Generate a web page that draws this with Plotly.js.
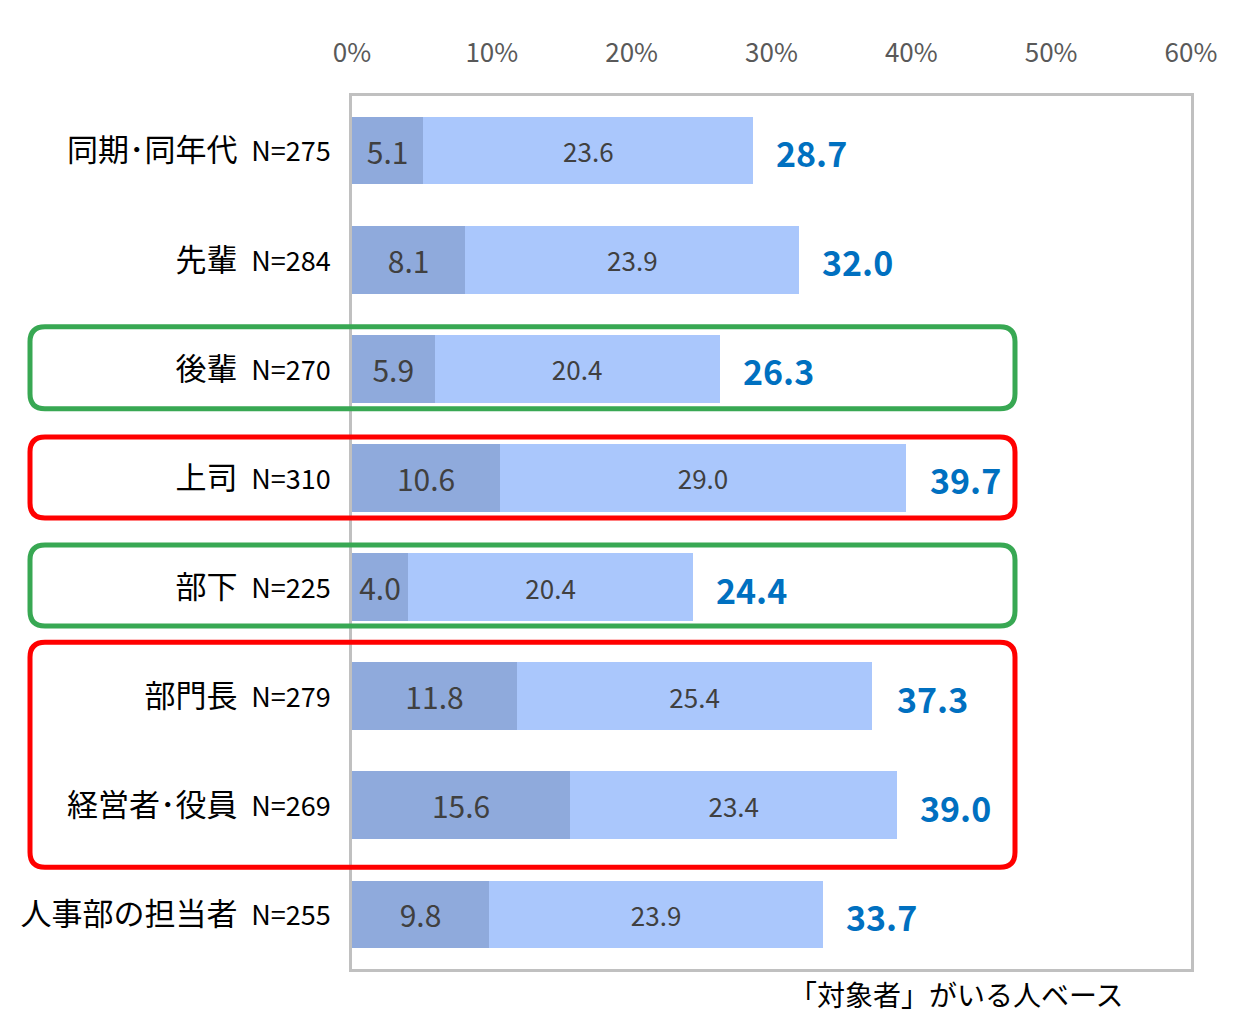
<!DOCTYPE html>
<html>
<head>
<meta charset="utf-8">
<script src="https://cdn.plot.ly/plotly-3.0.1.min.js"></script>
<style>
  body { margin: 0; background: #fff; }
  #chart { width: 1256px; height: 1025px; }
</style>
</head>
<body>
<div id="chart"></div>
<script>
var categories = ['同期･同年代', '先輩', '後輩', '上司', '部下', '部門長', '経営者･役員', '人事部の担当者'];
var sampleSizes = [275, 284, 270, 310, 225, 279, 269, 255];
var strongValues = [5.1, 8.1, 5.9, 10.6, 4.0, 11.8, 15.6, 9.8];
var someValues = [23.6, 23.9, 20.4, 29.0, 20.4, 25.4, 23.4, 23.9];
var totalValues = [28.7, 32.0, 26.3, 39.7, 24.4, 37.3, 39.0, 33.7];
var xTicks = [0, 10, 20, 30, 40, 50, 60];
var footnote = '「対象者」がいる人ベース';

var JP = '"Noto Sans CJK JP", "Noto Sans", sans-serif';

var tickText = categories.map(function(c, i) {
    return c + '\u00A0 <span style="font-size:27px">N=' + sampleSizes[i] + '</span>';
});

var traceStrong = {
    type: 'bar',
    orientation: 'h',
    y: categories,
    x: strongValues,
    marker: { color: '#8FAADC' },
    text: strongValues.map(function(v) { return v.toFixed(1); }),
    textposition: 'inside',
    insidetextanchor: 'middle',
    constraintext: 'none',
    textfont: { size: 30, color: '#404040', family: JP },
    hoverinfo: 'none'
};

var traceSome = {
    type: 'bar',
    orientation: 'h',
    y: categories,
    x: someValues,
    marker: { color: '#AAC7FC' },
    text: someValues.map(function(v) { return v.toFixed(1); }),
    textposition: 'inside',
    insidetextanchor: 'middle',
    constraintext: 'none',
    textfont: { size: 26, color: '#404040', family: JP },
    hoverinfo: 'none'
};

var annotations = totalValues.map(function(v, i) {
    return {
        x: v, y: categories[i], xref: 'x', yref: 'y',
        text: '<b>' + v.toFixed(1) + '</b>',
        showarrow: false, xanchor: 'left', yanchor: 'middle',
        xshift: 21, yshift: -2,
        font: { size: 34, color: '#0070C0', family: JP }
    };
});

// plot area geometry (for the highlight boxes)
var plotW = 839, plotH = 873, leftPx = 352;
function rowY(i, padPx) { return 1 - (i + 0.5) / categories.length + padPx / plotH; }
function roundBox(x0px, x1px, first, last, padTop, padBot, color) {
    var x0 = (x0px - leftPx) / plotW, x1 = (x1px - leftPx) / plotW;
    var y1 = rowY(first, padTop), y0 = rowY(last, -padBot);
    var rx = 15 / plotW, ry = 15 / plotH;
    var p = 'M' + (x0 + rx) + ',' + y1 +
        ' L' + (x1 - rx) + ',' + y1 +
        ' Q' + x1 + ',' + y1 + ' ' + x1 + ',' + (y1 - ry) +
        ' L' + x1 + ',' + (y0 + ry) +
        ' Q' + x1 + ',' + y0 + ' ' + (x1 - rx) + ',' + y0 +
        ' L' + (x0 + rx) + ',' + y0 +
        ' Q' + x0 + ',' + y0 + ' ' + x0 + ',' + (y0 + ry) +
        ' L' + x0 + ',' + (y1 - ry) +
        ' Q' + x0 + ',' + y1 + ' ' + (x0 + rx) + ',' + y1 + ' Z';
    return { type: 'path', xref: 'paper', yref: 'paper', path: p,
             line: { color: color, width: 5 }, layer: 'above' };
}

var shapes = [
    roundBox(30, 1015, 2, 2, 42, 40, '#38A853'),
    roundBox(30, 1015, 3, 3, 41, 40, '#FF0000'),
    roundBox(30, 1015, 4, 4, 42, 39, '#38A853'),
    roundBox(30, 1015, 5, 6, 54, 62, '#FF0000')
];

annotations.push({
    x: (1126 - leftPx) / plotW, y: -0.029, xref: 'paper', yref: 'paper',
    text: footnote, showarrow: false, xanchor: 'right', yanchor: 'middle',
    font: { size: 28, color: '#000000', family: JP }
});

var layout = {
    width: 1256,
    height: 1025,
    margin: { l: 352, r: 65, t: 96, b: 56 },
    paper_bgcolor: '#ffffff',
    plot_bgcolor: '#ffffff',
    barmode: 'stack',
    bargap: 0.38,
    showlegend: false,
    font: { family: JP },
    xaxis: {
        side: 'top',
        range: [0, 60],
        tickvals: xTicks,
        ticktext: xTicks.map(function(t) { return t + '%'; }),
        tickfont: { size: 26, color: '#595959', family: JP },
        ticks: '',
        ticklabelstandoff: 21,
        showgrid: false,
        zeroline: false,
        showline: true,
        mirror: true,
        linecolor: '#C0C0C0',
        linewidth: 3,
        fixedrange: true
    },
    yaxis: {
        type: 'category',
        categoryorder: 'array',
        categoryarray: categories,
        autorange: 'reversed',
        tickvals: categories,
        ticktext: tickText,
        tickfont: { size: 31, color: '#000000', family: JP },
        ticks: '',
        ticklabelstandoff: 12,
        showgrid: false,
        zeroline: false,
        showline: true,
        mirror: true,
        linecolor: '#C0C0C0',
        linewidth: 3,
        fixedrange: true
    },
    shapes: shapes,
    annotations: annotations
};

Plotly.newPlot('chart', [traceStrong, traceSome], layout, { displayModeBar: false, staticPlot: true });
</script>
</body>
</html>
